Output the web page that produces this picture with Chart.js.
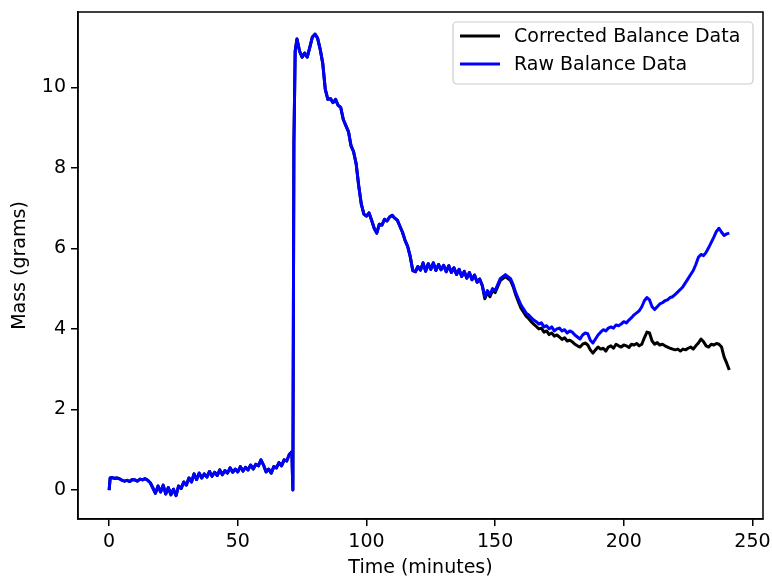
<!DOCTYPE html>
<html>
<head>
<meta charset="utf-8">
<title>Balance Data</title>
<script src="https://cdn.jsdelivr.net/npm/chart.js@4.4.0/dist/chart.umd.min.js"></script>
<style>
  html, body { margin: 0; padding: 0; background: #fff; }
  #wrap { width: 772px; height: 579px; }
</style>
</head>
<body>
<div id="wrap"><canvas id="chart" width="772" height="579"></canvas></div>
<script>
"use strict";

// time stamps in minutes (the spike near 71-72 min is sampled more finely)
const minutes = [
  0, 0.4,
  1, 2, 3, 4, 5, 6, 7, 8, 9, 10,
  11, 12, 13, 14, 15, 16, 17, 18, 19, 20,
  21, 22, 23, 24, 25, 26, 27, 28, 29, 30,
  31, 32, 33, 34, 35, 36, 37, 38, 39, 40,
  41, 42, 43, 44, 45, 46, 47, 48, 49, 50,
  51, 52, 53, 54, 55, 56, 57, 58, 59, 60,
  61, 62, 63, 64, 65, 66, 67, 68, 69, 70,
  71, 71.4, 71.8, 72.3,
  73, 74, 75, 76, 77, 78, 79, 80,
  81, 82, 83, 84, 85, 86, 87, 88, 89, 90,
  91, 92, 93, 94, 95, 96, 97, 98, 99, 100,
  101, 102, 103, 104, 105, 106, 107, 108, 109, 110,
  111, 112, 113, 114, 115, 116, 117, 118, 119, 120,
  121, 122, 123, 124, 125, 126, 127, 128, 129, 130,
  131, 132, 133, 134, 135, 136, 137, 138, 139, 140,
  141, 142, 143, 144, 145, 146, 147, 148, 149, 150,
  151, 152, 153, 154, 155, 156, 157, 158, 159, 160,
  161, 162, 163, 164, 165, 166, 167, 168, 169, 170,
  171, 172, 173, 174, 175, 176, 177, 178, 179, 180,
  181, 182, 183, 184, 185, 186, 187, 188, 189, 190,
  191, 192, 193, 194, 195, 196, 197, 198, 199, 200,
  201, 202, 203, 204, 205, 206, 207, 208, 209, 210,
  211, 212, 213, 214, 215, 216, 217, 218, 219, 220,
  221, 222, 223, 224, 225, 226, 227, 228, 229, 230,
  231, 232, 233, 234, 235, 236, 237, 238, 239, 240, 241,
];

const rawMass = [
  0.00, 0.30,
  0.31, 0.29, 0.30, 0.28, 0.24, 0.22, 0.24, 0.21, 0.26, 0.25,
  0.22, 0.27, 0.25, 0.28, 0.24, 0.18, 0.05, -0.08, 0.10, -0.05,
  0.12, -0.10, 0.06, -0.12, 0.02, -0.14, 0.10, 0.04, 0.20, 0.12,
  0.30, 0.20, 0.40, 0.26, 0.42, 0.30, 0.40, 0.32, 0.46, 0.34,
  0.44, 0.36, 0.50, 0.38, 0.48, 0.42, 0.55, 0.44, 0.52, 0.45,
  0.58, 0.47, 0.56, 0.50, 0.62, 0.52, 0.64, 0.60, 0.75, 0.62,
  0.45, 0.52, 0.42, 0.58, 0.55, 0.68, 0.60, 0.75, 0.72, 0.88,
  0.95, 0.00, 8.60, 10.90,
  11.20, 10.90, 10.75, 10.85, 10.75, 11.00, 11.25, 11.32,
  11.22, 10.95, 10.60, 9.95, 9.70, 9.72, 9.62, 9.70, 9.55, 9.50,
  9.20, 9.05, 8.90, 8.55, 8.40, 8.10, 7.55, 7.10, 6.85, 6.80,
  6.88, 6.70, 6.50, 6.38, 6.60, 6.58, 6.72, 6.68, 6.78, 6.82,
  6.75, 6.70, 6.55, 6.40, 6.20, 6.05, 5.80, 5.45, 5.42, 5.55,
  5.46, 5.64, 5.43, 5.62, 5.48, 5.64, 5.45, 5.60, 5.47, 5.58,
  5.42, 5.57, 5.40, 5.52, 5.35, 5.48, 5.30, 5.43, 5.26, 5.40,
  5.22, 5.34, 5.16, 5.24, 5.08, 4.80, 4.95, 4.85, 5.00, 4.95,
  5.10, 5.25, 5.30, 5.35, 5.30, 5.25, 5.10, 4.90, 4.75, 4.60,
  4.50, 4.40, 4.35, 4.28, 4.22, 4.18, 4.12, 4.15, 4.05, 4.08,
  4.00, 4.05, 3.95, 4.00, 4.02, 3.95, 3.98, 3.90, 3.95, 3.92,
  3.85, 3.80, 3.75, 3.85, 3.90, 3.88, 3.72, 3.65, 3.75, 3.85,
  3.92, 3.98, 3.95, 4.02, 4.05, 4.02, 4.10, 4.08, 4.12, 4.18,
  4.15, 4.22, 4.28, 4.35, 4.40, 4.45, 4.55, 4.70, 4.78, 4.72,
  4.55, 4.48, 4.55, 4.62, 4.65, 4.70, 4.72, 4.78, 4.80, 4.86,
  4.92, 4.98, 5.05, 5.15, 5.25, 5.35, 5.45, 5.60, 5.78, 5.85,
  5.82, 5.90, 6.02, 6.15, 6.28, 6.42, 6.50, 6.40, 6.32, 6.36, 6.38,
];

// corrected data follows the raw data until ~146 min, then these values
const correctedFromMinute = 146;
const correctedTail = [
  4.75, 4.90, 4.80, 4.95, 4.90,
  5.05, 5.20, 5.25, 5.30, 5.25, 5.20, 5.05, 4.85, 4.68, 4.52,
  4.42, 4.32, 4.26, 4.18, 4.12, 4.06, 4.00, 4.02, 3.92, 3.95,
  3.86, 3.90, 3.82, 3.85, 3.80, 3.74, 3.78, 3.70, 3.72, 3.68,
  3.62, 3.58, 3.55, 3.62, 3.65, 3.60, 3.48, 3.40, 3.48, 3.55,
  3.50, 3.52, 3.45, 3.55, 3.58, 3.52, 3.62, 3.58, 3.55, 3.60,
  3.58, 3.54, 3.62, 3.60, 3.64, 3.58, 3.62, 3.78, 3.92, 3.90,
  3.70, 3.62, 3.66, 3.60, 3.62, 3.58, 3.55, 3.52, 3.50, 3.48,
  3.50, 3.45, 3.50, 3.48, 3.52, 3.55, 3.50, 3.58, 3.65, 3.75,
  3.68, 3.58, 3.55, 3.62, 3.60, 3.64, 3.62, 3.55, 3.30, 3.15, 2.98,
];

const xTicks = [0, 50, 100, 150, 200, 250];
const yTicks = [0, 2, 4, 6, 8, 10];
const seriesNames = ["Corrected Balance Data", "Raw Balance Data"];
const seriesColors = ["#000000", "#0000ff"];

const FONT = "'DejaVu Sans', 'Liberation Sans', sans-serif";
const FONT_SIZE = 19;

const splitAt = minutes.indexOf(correctedFromMinute);
const correctedMass = rawMass.slice(0, splitAt).concat(correctedTail);

function toPoints(values) {
  return values.map((v, i) => ({ x: minutes[i], y: v }));
}

const framePlugin = {
  id: "frame",
  afterDatasetsDraw(chart) {
    const { ctx, chartArea: a } = chart;
    ctx.save();
    ctx.strokeStyle = "#000";
    ctx.lineWidth = 1.5;
    ctx.strokeRect(a.left, a.top, a.right - a.left, a.bottom - a.top);
    ctx.restore();
  },
};

// matplotlib-like legend box in the upper right corner
const legendPlugin = {
  id: "boxLegend",
  afterDraw(chart) {
    const { ctx, chartArea: a } = chart;
    const w = 300;
    const h = 62;
    const x = a.right - 10 - w;
    const y = a.top + 10;
    ctx.save();
    ctx.beginPath();
    ctx.roundRect(x, y, w, h, 4);
    ctx.fillStyle = "rgba(255,255,255,0.8)";
    ctx.fill();
    ctx.strokeStyle = "#cccccc";
    ctx.lineWidth = 1.2;
    ctx.stroke();

    ctx.font = `${FONT_SIZE}px ${FONT}`;
    ctx.textBaseline = "middle";
    ctx.textAlign = "left";
    seriesNames.forEach((name, i) => {
      const rowY = y + 14 + i * 28;
      ctx.beginPath();
      ctx.moveTo(x + 7, rowY);
      ctx.lineTo(x + 47, rowY);
      ctx.strokeStyle = seriesColors[i];
      ctx.lineWidth = 2.8;
      ctx.stroke();
      ctx.fillStyle = "#000";
      ctx.fillText(name, x + 61, rowY + 1);
    });
    ctx.restore();
  },
};

function axisBase(ticks) {
  return {
    type: "linear",
    afterBuildTicks: (axis) => {
      axis.ticks = ticks.map((v) => ({ value: v }));
    },
    grid: {
      display: true,
      drawOnChartArea: false,
      drawTicks: true,
      tickLength: 7,
      color: "#000",
      lineWidth: 1.5,
    },
    border: { display: true, color: "#000", width: 1.5 },
    ticks: {
      color: "#000",
      padding: 5,
      font: { family: FONT, size: FONT_SIZE },
      callback: (value) => String(value),
    },
  };
}

const xScale = axisBase(xTicks);
xScale.min = -12.1;
xScale.max = 254.1;
xScale.afterFit = (axis) => {
  axis.height = 60;
  axis.paddingLeft = 0;
  axis.paddingRight = 0;
};
xScale.title = {
  display: true,
  text: "Time (minutes)",
  color: "#000",
  font: { family: FONT, size: FONT_SIZE },
  padding: { top: 0, bottom: 0 },
};

const yScale = axisBase(yTicks);
yScale.min = -0.72;
yScale.max = 11.87;
yScale.afterFit = (axis) => {
  axis.width = 78;
  axis.paddingTop = 0;
  axis.paddingBottom = 0;
};
yScale.title = {
  display: true,
  text: "Mass (grams)",
  color: "#000",
  font: { family: FONT, size: FONT_SIZE },
  padding: { top: 9, bottom: 0 },
};

new Chart(document.getElementById("chart"), {
  type: "line",
  data: {
    datasets: [
      {
        label: seriesNames[0],
        data: toPoints(correctedMass),
        borderColor: seriesColors[0],
        borderWidth: 3,
        pointRadius: 0,
        tension: 0,
        borderJoinStyle: "round",
        order: 1,
      },
      {
        label: seriesNames[1],
        data: toPoints(rawMass),
        borderColor: seriesColors[1],
        borderWidth: 3,
        pointRadius: 0,
        tension: 0,
        borderJoinStyle: "round",
        order: 0,
      },
    ],
  },
  options: {
    responsive: false,
    animation: false,
    devicePixelRatio: 1,
    layout: { padding: { top: 12, right: 9, left: 0, bottom: 0 } },
    plugins: {
      legend: { display: false },
      tooltip: { enabled: false },
    },
    scales: { x: xScale, y: yScale },
  },
  plugins: [framePlugin, legendPlugin],
});
</script>
</body>
</html>
